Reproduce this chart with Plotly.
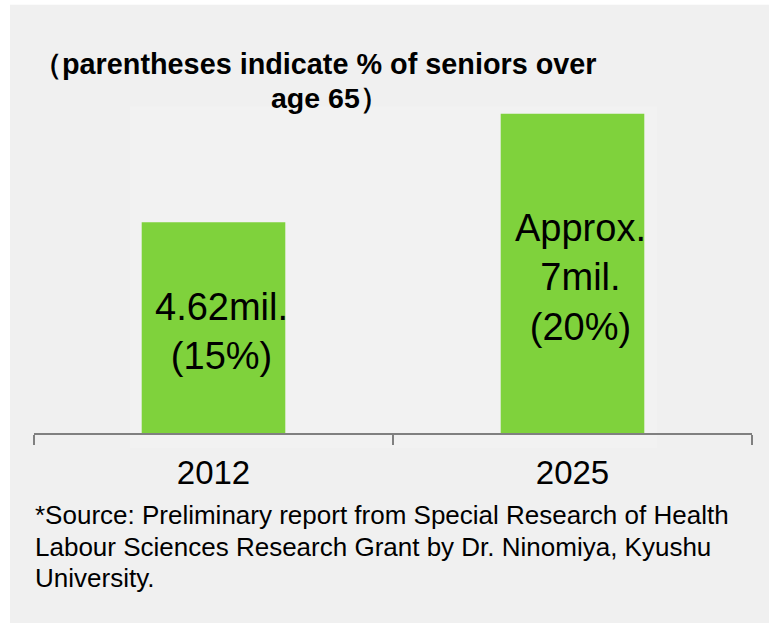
import plotly.graph_objects as go

# ---- data ----
years = ["2012", "2025"]
seniors_mil = [4.62, 7.0]
bar_labels = ["4.62mil.<br>(15%)", "Approx.<br>7mil.<br>(20%)"]
title_lines = ["（parentheses indicate % of seniors over", "age 65）"]
source_lines = [
    "*Source: Preliminary report from Special Research of Health",
    "Labour Sciences Research Grant by Dr. Ninomiya, Kyushu",
    "University.",
]

W, H = 769, 623
L, R = 34, 752          # plot area x pixels
B = 433                 # axis baseline pixel
YMAX = 7.5
PXU = 319 / 7.0
T = B - YMAX * PXU      # top pixel of plot area

def px_x(p):
    return (p - L) / (R - L)

def px_y(p):
    return (B - p) / (B - T)

FONT = "Liberation Sans, Arial, sans-serif"

fig = go.Figure()
fig.add_trace(go.Bar(
    x=years, y=seniors_mil,
    marker=dict(color="#7fd23c", line=dict(width=0)),
    hoverinfo="skip",
))

shapes = [
    # outer gray panel
    dict(type="rect", xref="paper", yref="paper",
         x0=px_x(10), x1=px_x(W + 5), y0=px_y(H + 5), y1=px_y(5),
         fillcolor="#f0f0f0", line=dict(width=0), layer="below"),
    # slightly lighter inner plot panel
    dict(type="rect", xref="paper", yref="paper",
         x0=px_x(130), x1=px_x(657), y0=px_y(448), y1=px_y(107),
         fillcolor="#f2f2f2", line=dict(width=0), layer="below"),
]

annotations = []
# bar value labels, placed at the middle of each bar (category index, data y)
for i, (val, lab) in enumerate(zip(seniors_mil, bar_labels)):
    annotations.append(dict(
        text=lab, x=i, y=val / 2, xref="x", yref="y",
        xanchor="center", yanchor="middle", xshift=8, yshift=-4,
        showarrow=False, align="center",
        font=dict(family=FONT, size=38, color="#000000")))
for line, cx, cy, fs in zip(title_lines, [315, 330], [64, 98], [28.8, 28.5]):
    annotations.append(dict(
        text=f"<b>{line}</b>", xref="paper", yref="paper",
        x=px_x(cx), y=px_y(cy), xanchor="center", yanchor="middle",
        showarrow=False, font=dict(family=FONT, size=fs, color="#000000")))
for line, cy in zip(source_lines, [515, 547, 578]):
    annotations.append(dict(
        text=line, xref="paper", yref="paper",
        x=px_x(33), y=px_y(cy), xanchor="left", yanchor="middle",
        showarrow=False, font=dict(family=FONT, size=26, color="#000000")))

fig.update_layout(
    width=W, height=H,
    margin=dict(l=L, r=W - R, t=T, b=H - B, pad=0),
    paper_bgcolor="#ffffff",
    plot_bgcolor="rgba(0,0,0,0)",
    bargap=0.6,
    showlegend=False,
    shapes=shapes,
    annotations=annotations,
    xaxis=dict(
        type="category",
        range=[-0.5, 1.5],
        showline=True, linecolor="#808080", linewidth=2,
        ticks="outside", tickson="boundaries", ticklen=10,
        tickwidth=2, tickcolor="#808080",
        ticklabelstandoff=9,
        showgrid=False, zeroline=False,
        tickfont=dict(family=FONT, size=33, color="#000000"),
        fixedrange=True,
    ),
    yaxis=dict(
        range=[0, YMAX], visible=False, showgrid=False, zeroline=False,
        fixedrange=True,
    ),
)

fig.write_html(
    "out.html",
    config={"displayModeBar": False},
    post_script="document.body.style.margin='0';document.body.style.overflow='hidden';",
)
